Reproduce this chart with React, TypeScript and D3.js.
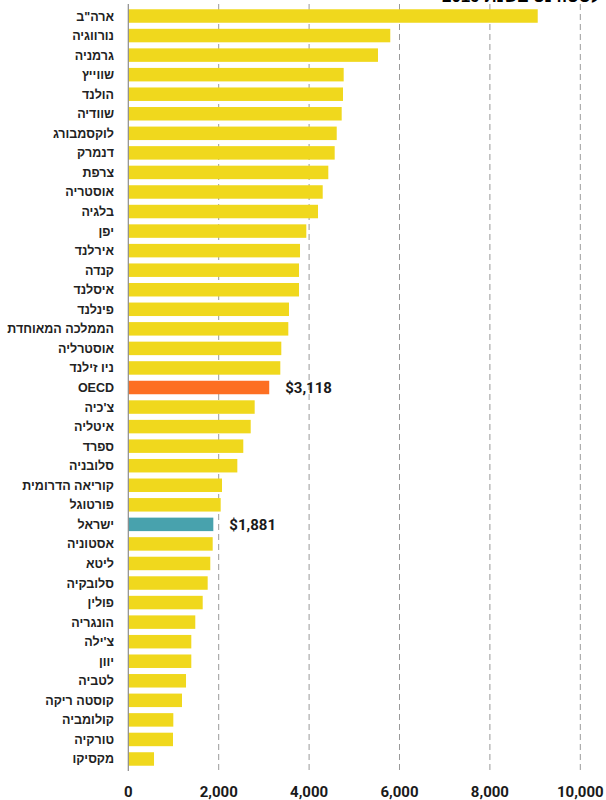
import * as d3 from 'd3';
import React, { useEffect, useRef } from 'react';

const countries = [
  'ארה"ב', 'נורווגיה', 'גרמניה', 'שווייץ', 'הולנד', 'שוודיה', 'לוקסמבורג', 'דנמרק',
  'צרפת', 'אוסטריה', 'בלגיה', 'יפן', 'אירלנד', 'קנדה', 'איסלנד', 'פינלנד',
  'הממלכה המאוחדת', 'אוסטרליה', 'ניו זילנד', 'OECD', "צ'כיה", 'איטליה', 'ספרד',
  'סלובניה', 'קוריאה הדרומית', 'פורטוגל', 'ישראל', 'אסטוניה', 'ליטא', 'סלובקיה',
  'פולין', 'הונגריה', "צ'ילה", 'יוון', 'לטביה', 'קוסטה ריקה', 'קולומביה', 'טורקיה', 'מקסיקו',
];

const values = [
  9058, 5796, 5524, 4765, 4750, 4721, 4611, 4566,
  4425, 4301, 4197, 3938, 3799, 3777, 3777, 3555,
  3540, 3385, 3363, 3118, 2796, 2708, 2544,
  2412, 2073, 2044, 1881, 1867, 1814, 1756,
  1646, 1482, 1394, 1394, 1277, 1188, 996, 989, 569,
];

const highlighted: Record<string, string> = { OECD: '#fd6f22', 'ישראל': '#48a2ad' };
const xTicks = [0, 2000, 4000, 6000, 8000, 10000];

const App: React.FC = () => {
  const ref = useRef<SVGSVGElement | null>(null);

  useEffect(() => {
    if (!ref.current) return;
    const svg = d3.select(ref.current);
    svg.selectAll('*').remove();

    const left = 128.3;
    const right = 580.3;

    const x = d3.scaleLinear().domain([0, 10000]).range([left, right]);
    const y = d3.scaleBand<string>().domain(countries).range([3.2, 771.8]).padding(0.31);

    // title (cut off at the top edge, as in the original)
    svg
      .append('text')
      .attr('x', 600)
      .attr('y', 2)
      .attr('text-anchor', 'end')
      .attr('font-family', 'Liberation Sans, Arial, sans-serif')
      .attr('font-weight', 'bold')
      .attr('font-size', 17)
      .text('לסטודנט בשנת 2019');

    // dashed gridlines
    svg
      .selectAll('line.grid')
      .data(xTicks.slice(1))
      .enter()
      .append('line')
      .attr('class', 'grid')
      .attr('x1', (d) => x(d))
      .attr('x2', (d) => x(d))
      .attr('y1', 4)
      .attr('y2', 771)
      .attr('stroke', '#9a9a9a')
      .attr('stroke-width', 1)
      .attr('stroke-dasharray', '6,4');

    svg
      .selectAll('rect.bar')
      .data(values)
      .enter()
      .append('rect')
      .attr('class', 'bar')
      .attr('x', x(0))
      .attr('y', (_, i) => y(countries[i]) ?? 0)
      .attr('width', (d) => x(d) - x(0))
      .attr('height', y.bandwidth())
      .attr('fill', (_, i) => highlighted[countries[i]] ?? '#f0d81d');

    // zero axis line
    svg
      .append('line')
      .attr('x1', x(0))
      .attr('x2', x(0))
      .attr('y1', 4)
      .attr('y2', 771)
      .attr('stroke', '#8c8c8c')
      .attr('stroke-width', 1.2);

    // category labels
    svg
      .selectAll('text.cat')
      .data(countries)
      .enter()
      .append('text')
      .attr('class', 'cat')
      .attr('x', 114)
      .attr('y', (d) => (y(d) ?? 0) + y.bandwidth() / 2)
      .attr('dy', '0.36em')
      .attr('text-anchor', 'end')
      .attr('font-family', 'Liberation Sans, Arial, sans-serif')
      .attr('font-weight', 'bold')
      .attr('font-size', 12.5)
      .attr('fill', '#222')
      .text((d) => d);

    // value labels for highlighted bars
    const marked = countries
      .map((c, i) => ({ c, v: values[i] }))
      .filter((d) => highlighted[d.c]);
    svg
      .selectAll('text.val')
      .data(marked)
      .enter()
      .append('text')
      .attr('class', 'val')
      .attr('x', (d) => x(d.v) + 16)
      .attr('y', (d) => (y(d.c) ?? 0) + y.bandwidth() / 2)
      .attr('dy', '0.36em')
      .attr('font-family', 'Roboto, sans-serif')
      .attr('font-weight', 'bold')
      .attr('font-size', 15)
      .attr('fill', '#1a1a1a')
      .text((d) => '$' + d3.format(',')(d.v));

    // x tick labels
    svg
      .selectAll('text.tick')
      .data(xTicks)
      .enter()
      .append('text')
      .attr('class', 'tick')
      .attr('x', (d) => x(d))
      .attr('y', 797)
      .attr('text-anchor', 'middle')
      .attr('font-family', 'Roboto, sans-serif')
      .attr('font-weight', 'bold')
      .attr('font-size', 15)
      .attr('fill', '#1a1a1a')
      .text((d) => d3.format(',')(d));
  }, []);

  return (
    <svg
      ref={ref}
      width={606}
      height={800}
      style={{ position: 'absolute', left: 0, top: 0, background: '#fff' }}
    />
  );
};

export default App;
